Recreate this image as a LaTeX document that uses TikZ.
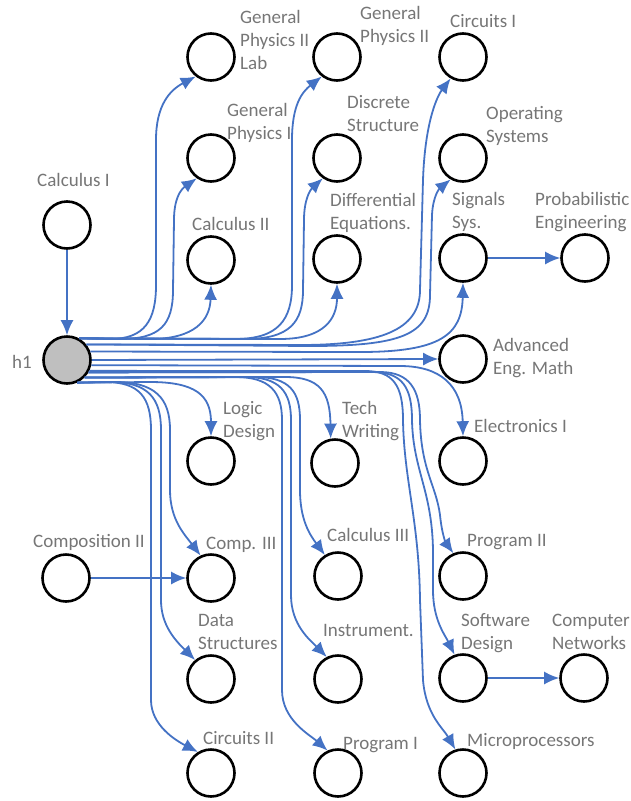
\documentclass[tikz,border=0pt]{standalone}
\usepackage{fontspec}
\setmainfont{Carlito}
\usetikzlibrary{arrows.meta}
\definecolor{edgeblue}{HTML}{4472C4}
\definecolor{labelgray}{HTML}{767676}
% multi-line label whose baseline is the first line
\newcommand{\lbl}[1]{\begin{tabular}[t]{@{}l@{}}#1\end{tabular}}
\begin{document}
\begin{tikzpicture}[x=1pt,y=-1pt,
  course/.style={circle,draw=black,line width=2.6pt,minimum size=47pt,inner sep=0pt},
  root/.style={course,fill=black!25},
  tag/.style={anchor=base west,inner sep=0pt,text=labelgray,font=\fontsize{19}{23}\selectfont},
  link/.style={draw=edgeblue,line width=1.8pt,-{Latex[length=15pt,width=13pt]}},
]
\useasboundingbox (0,0) rectangle (631,801);

% courses
\node[course] (gp2lab) at (211,57) {};
\node[course] (gp1)    at (211,158) {};
\node[course] (calc2)  at (211,260) {};
\node[course] (gp2)    at (337,57) {};
\node[course] (disc)   at (337,158) {};
\node[course] (diffeq) at (337,259) {};
\node[course] (circ1)  at (463,57) {};
\node[course] (os)     at (463,158) {};
\node[course] (sig)    at (463,258) {};
\node[course] (prob)   at (585,258) {};
\node[course] (calc1)  at (67,225) {};
\node[root]   (h1)     at (67,360) {};
\node[course] (aem)    at (463,359) {};
\node[course] (logic)  at (211,461) {};
\node[course] (tech)   at (335,463) {};
\node[course] (elec)   at (463,461) {};
\node[course] (comp2)  at (66,578) {};
\node[course] (comp3)  at (211,578) {};
\node[course] (calc3)  at (338,576) {};
\node[course] (prog2)  at (463,576) {};
\node[course] (ds)     at (211,679) {};
\node[course] (instr)  at (338,679) {};
\node[course] (sd)     at (463,678) {};
\node[course] (cn)     at (584,678) {};
\node[course] (circ2)  at (211,773) {};
\node[course] (prog1)  at (338,773) {};
\node[course] (micro)  at (463,773) {};

% labels
\node[tag] (gp2lab-t) at (240,23)  {\lbl{General\\Physics II\\Lab}};
\node[tag] (gp1-t)    at (227,116) {\lbl{General\\Physics I}};
\node[tag] (calc2-t)  at (192,230) {Calculus II};
\node[tag] (calc1-t)  at (37,186)  {Calculus I};
\node[tag] (gp2-t)    at (360,19)  {\lbl{General\\Physics II}};
\node[tag] (circ1-t)  at (450,27)  {Circuits I};
\node[tag] (disc-t)   at (347,108) {\lbl{Discrete\\Structure}};
\node[tag] (os-t)     at (486,119) {\lbl{Operating\\Systems}};
\node[tag] (diffeq-t) at (330,206) {\lbl{Differential\\Equations.}};
\node[tag] (sig-t)    at (452,205) {\lbl{Signals\\Sys.}};
\node[tag] (prob-t)   at (535,205) {\lbl{Probabilistic\\Engineering}};
\node[tag] (h1-t)     at (12,368)  {h1};
\node[tag] (logic-t)  at (223,414) {\lbl{Logic\\Design}};
\node[tag] (aem-t)    at (493,351) {\lbl{Advanced\\Eng. Math}};
\node[tag] (tech-t)   at (342,414) {\lbl{Tech\\Writing}};
\node[tag] (elec-t)   at (474,432) {Electronics I};
\node[tag] (comp2-t)  at (33,547)  {Composition II};
\node[tag] (comp3-t)  at (206,549) {Comp. III};
\node[tag] (ds-t)     at (198,626) {\lbl{Data\\Structures}};
\node[tag] (circ2-t)  at (203,744) {Circuits II};
\node[tag] (calc3-t)  at (327,541) {Calculus III};
\node[tag] (prog2-t)  at (467,546) {Program II};
\node[tag] (instr-t)  at (323,636) {Instrument.};
\node[tag] (sd-t)     at (461,626) {\lbl{Software\\Design}};
\node[tag] (cn-t)     at (552,626) {\lbl{Computer\\Networks}};
\node[tag] (prog1-t)  at (343,749) {Program I};
\node[tag] (micro-t)  at (467,746) {Microprocessors};

% prerequisites of single courses
\draw[link] (calc1) -- (h1);
\draw[link] (comp2) -- (comp3);
\draw[link] (sig) -- (prob);
\draw[link] (sd) -- (cn);

% h1 fan-out: upward branches
\draw[link] (h1.61) -- (110,339) .. controls (145,339) and (156,320) .. (156,285) -- (156,140) .. controls (156,105) and (170,90) .. (gp2lab.232);
\draw[link] (h1.61) -- (120,339) .. controls (160,339) and (173,325) .. (173,290) -- (174,220) .. controls (174,200) and (180,190) .. (gp1.235);
\draw[link] (h1.61) -- (150,339) .. controls (195,339) and (210,320) .. (calc2.south);
\draw[link] (h1.61) -- (235,339) .. controls (278,339) and (292,320) .. (292,285) -- (292,140) .. controls (292,105) and (302,92) .. (gp2.232);
\draw[link] (h1.61) -- (245,339) .. controls (290,339) and (303,322) .. (303,290) -- (304,220) .. controls (304,200) and (310,190) .. (disc.235);
\draw[link] (h1.61) -- (280,339) .. controls (325,339) and (337,318) .. (diffeq.south);
\draw[link] (h1.39) -- (300,345) .. controls (380,345) and (420,330) .. (420,290) -- (423,180) .. controls (425,120) and (438,95) .. (circ1.240);
\draw[link] (h1.39) -- (310,346) .. controls (400,346) and (430,335) .. (430,295) -- (432,215) .. controls (433,195) and (440,188) .. (os.240);
\draw[link] (h1.20) -- (360,352) .. controls (440,352) and (462,335) .. (sig.south);

% straight across
\draw[link] (h1.0) -- (aem.west);

% downward branches, right column
\draw[link] (h1.-12) -- (400,366) .. controls (440,366) and (462,385) .. (elec.north);
\draw[link] (h1.-26) -- (365,371) .. controls (393,371) and (403,385) .. (403,420) .. controls (404,480) and (419,520) .. (420,600) -- (423,680) .. controls (426,715) and (443,728) .. (micro.108);
\draw[link] (h1.-30) -- (372,372) .. controls (402,372) and (412,387) .. (412,420) .. controls (413,470) and (432,490) .. (433,550) -- (433,590) .. controls (433,620) and (445,635) .. (sd.110);
\draw[link] (h1.-30) -- (380,372) .. controls (410,372) and (420,390) .. (420,420) .. controls (421,470) and (436,485) .. (440,515) .. controls (442,535) and (446,543) .. (prog2.113);

% downward branches, middle column
\draw[link] (h1.-45) -- (285,377) .. controls (320,377) and (330,392) .. (tech.100);
\draw[link] (h1.-45) -- (255,377) .. controls (290,377) and (300,392) .. (300,420) -- (300,490) .. controls (300,520) and (310,535) .. (calc3.122);
\draw[link] (h1.-45) -- (245,377) .. controls (280,377) and (291,392) .. (291,420) -- (291,595) .. controls (291,625) and (310,640) .. (instr.117);
\draw[link] (h1.-45) -- (235,377) .. controls (270,377) and (282,392) .. (282,420) -- (282,690) .. controls (282,720) and (310,735) .. (prog1.115);

% downward branches, left column
\draw[link] (h1.-66) -- (150,382) .. controls (195,382) and (211,395) .. (logic.north);
\draw[link] (h1.-66) -- (115,382) .. controls (155,382) and (170,398) .. (170,430) -- (170,490) .. controls (170,520) and (185,535) .. (comp3.115);
\draw[link] (h1.-66) -- (110,382) .. controls (148,382) and (161,398) .. (161,430) -- (161,600) .. controls (161,625) and (175,640) .. (ds.130);
\draw[link] (h1.-66) -- (105,382) .. controls (140,382) and (151,398) .. (151,430) -- (151,700) .. controls (151,725) and (175,740) .. (circ2.122);
\end{tikzpicture}
\end{document}
